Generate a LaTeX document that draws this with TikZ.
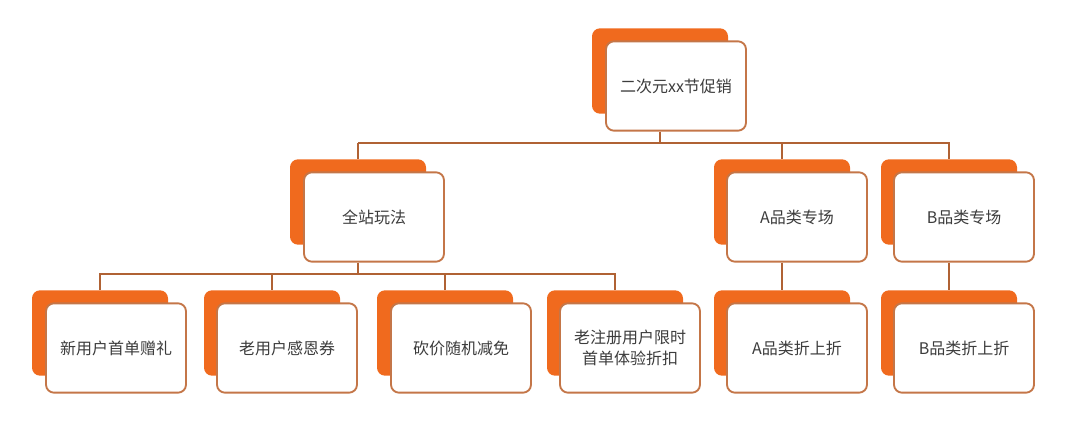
\documentclass[tikz,border=0pt]{standalone}
\usepackage{fontspec}
\newfontfamily\cjk{Noto Sans CJK SC}
\definecolor{shadeorange}{RGB}{240,106,30}
\definecolor{edgebrown}{RGB}{196,118,72}
\definecolor{linkbrown}{RGB}{176,98,52}
\definecolor{textgray}{RGB}{60,60,60}
\tikzset{
  card/.style={draw=edgebrown,line width=1.4pt,fill=white,rounded corners=6pt,
    minimum width=105pt,minimum height=67pt,inner sep=2pt,align=center,
    font=\cjk\fontsize{12}{16}\selectfont,text=textgray},
  cardshade/.style={fill=shadeorange,rounded corners=6pt,
    minimum width=102pt,minimum height=64pt},
  link/.style={draw=linkbrown,line width=1.3pt}
}
\begin{document}
\begin{tikzpicture}[x=0.75pt,y=0.75pt,yscale=-1,xscale=1]
\useasboundingbox (0,0) rectangle (1080,441);

% Shadows
\node [cardshade] (s0) at (660,71) {};
\node [cardshade] (s1) at (358,202) {};
\node [cardshade] (s2) at (782,202) {};
\node [cardshade] (s3) at (949,202) {};
\node [cardshade] (s4) at (100,333) {};
\node [cardshade] (s5) at (272,333) {};
\node [cardshade] (s6) at (445,333) {};
\node [cardshade] (s7) at (615,333) {};
\node [cardshade] (s8) at (782,333) {};
\node [cardshade] (s9) at (949,333) {};

% Cards
\node [card] (top) at (676,86) {二次元xx节促销};
\node [card] (site) at (374,217) {全站玩法};
\node [card] (catA) at (797,217) {A品类专场};
\node [card] (catB) at (964,217) {B品类专场};
\node [card] (gift) at (116,348) {新用户首单赠礼};
\node [card] (coupon) at (287,348) {老用户感恩券};
\node [card] (bargain) at (461,348) {砍价随机减免};
\node [card] (trial) at (630,348) {老注册用户限时\\首单体验折扣};
\node [card] (discA) at (797,348) {A品类折上折};
\node [card] (discB) at (964,348) {B品类折上折};

% Links
\coordinate (busA) at (660,143);
\coordinate (busB) at (358,274);
\draw [link] (s0 |- top.south) -- (busA);
\draw [link] (s1 |- busA) -- (s1.north);
\draw [link] (s1 |- busA) -- (s3 |- busA) -- (s3.north);
\draw [link] (s2 |- busA) -- (s2.north);
\draw [link] (s1 |- site.south) -- (busB);
\draw [link] (s4.north) -- (s4 |- busB) -- (s7 |- busB) -- (s7.north);
\draw [link] (s5 |- busB) -- (s5.north);
\draw [link] (s6 |- busB) -- (s6.north);
\draw [link] (s2 |- catA.south) -- (s8.north);
\draw [link] (s3 |- catB.south) -- (s9.north);
\end{tikzpicture}
\end{document}
